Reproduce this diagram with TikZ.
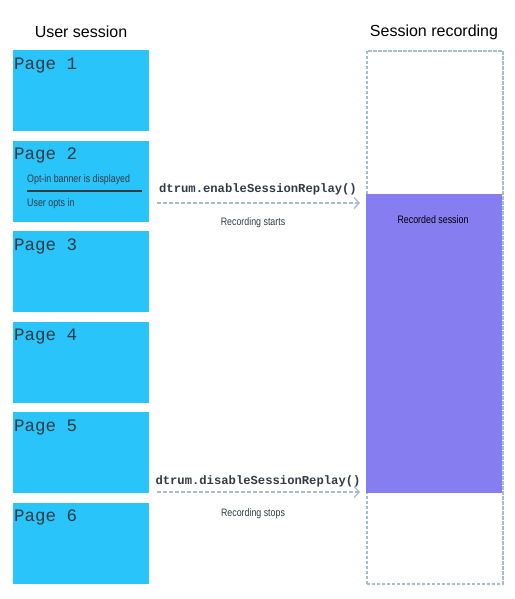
\documentclass[tikz,border=0pt]{standalone}
\usepackage{fontspec}
\setmainfont{Liberation Sans}
\newfontfamily\monofont{Liberation Mono}
\newfontfamily\narrowfont[FakeStretch=0.82]{Liberation Sans}
\usetikzlibrary{arrows.meta}
\definecolor{pageblue}{HTML}{29C4FA}
\definecolor{recpurple}{HTML}{867EF0}
\definecolor{dashgray}{HTML}{A6BECA}
\definecolor{txtdark}{HTML}{333A44}
\tikzset{
  x=1pt, y=-1pt,
  pagebox/.style={fill=pageblue, draw=none, minimum width=136pt, minimum height=81pt, inner sep=0pt, anchor=north west},
  pagelabel/.style={font=\monofont\fontsize{17.5}{18}\selectfont, text=txtdark, anchor=north west, inner sep=0pt},
  title/.style={font=\fontsize{16}{18}\selectfont, text=black, inner sep=0pt},
  smalltext/.style={font=\narrowfont\fontsize{10.8}{11}\selectfont, text=txtdark, inner sep=0pt},
  codetext/.style={font=\monofont\bfseries\fontsize{12.2}{13}\selectfont, text=txtdark, inner sep=0pt},
  dasharrow/.style={draw=dashgray, line width=1.7pt, dash pattern=on 4pt off 2pt, -{Straight Barb[length=5pt,width=11pt,line width=1.3pt]}},
}
\begin{document}
\begin{tikzpicture}
\useasboundingbox (0,0) rectangle (514,599);
% titles
\node[title] (t1) at (81,32) {User session};
\node[title] (t2) at (434,32) {Session recording};
% pages
\foreach \i/\y in {1/50,2/140.5,3/231,4/321.5,5/412,6/502.5}{
  \node[pagebox] (p\i) at (13,\y) {};
  \node[pagelabel] (l\i) at ([shift={(1pt,-7.5pt)}]p\i.north west) {Page \i};
}
% page 2 content
\node[smalltext, anchor=west] (ban) at (27,180) {Opt-in banner is displayed};
\coordinate (lineA) at (27,191);
\coordinate (lineB) at (142,191);
\draw[txtdark, line width=1.8pt] (lineA) -- (lineB);
\node[smalltext, anchor=west] (opt) at (27,204) {User opts in};
% session recording
\node[draw=dashgray, line width=1.6pt, dash pattern=on 3.5pt off 1.5pt, minimum width=136pt, minimum height=533pt, inner sep=0pt, anchor=north west] (rec) at (366,50) {};
\node[fill=recpurple, minimum width=136pt, minimum height=299pt, inner sep=0pt, anchor=north west] (recd) at (366,194) {};
\node[smalltext, text=black] (rl) at (433,220) {Recorded session};
% arrows
\coordinate (s1) at (157,203);
\coordinate (s2) at (157,492);
\draw[dasharrow] (s1) -- ([xshift=-6pt]s1 -| rec.west);
\draw[dasharrow] (s2) -- ([xshift=-6pt]s2 -| rec.west);
\node[codetext] (c1) at (258,189) {dtrum.enableSessionReplay()};
\node[smalltext] (r1) at (253,223) {Recording starts};
\node[codetext] (c2) at (258,481) {dtrum.disableSessionReplay()};
\node[smalltext] (r2) at (253,514) {Recording stops};
\end{tikzpicture}
\end{document}
